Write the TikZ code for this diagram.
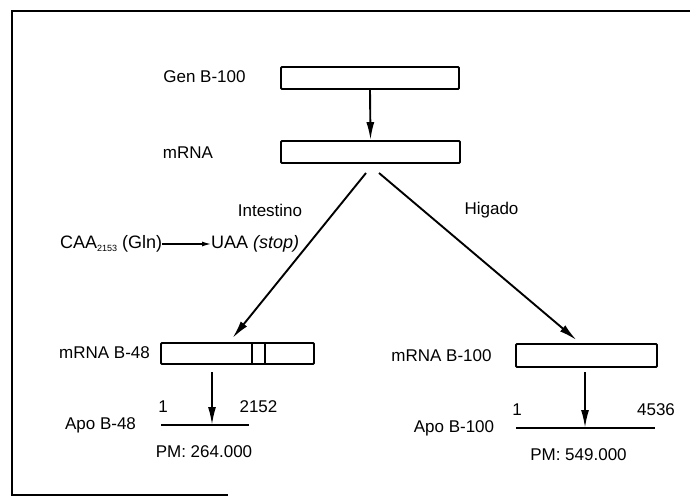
\documentclass[tikz,border=0pt]{standalone}
\usepackage{fontspec}
\setmainfont{Liberation Sans}
\usepackage{tikz}
\usetikzlibrary{arrows.meta, positioning, calc}

\begin{document}
\begin{tikzpicture}[
    x=1pt, y=-1pt,
    txt/.style={inner sep=0pt, font=\fontsize{17}{20}\selectfont},
    box/.style={draw, line width=1.9pt, rounded corners=1pt, inner sep=0pt},
    arr/.style={-{Latex[length=18pt, width=8pt]}, line width=1.9pt},
    seq/.style={line width=1.9pt}
  ]
  \useasboundingbox (0,0) rectangle (690,497);
  % frame
  \draw[line width=1.8pt] (690,11) -- (12,11) -- (12,495) -- (228,495);

  % gene and messenger
  \node[txt] (genlbl) at (204.5,77) {Gen B-100};
  \node[box, minimum width=178pt, minimum height=22pt] (gen) at (370,78) {};
  \node[txt] (mrnalbl) at (188,153) {mRNA};
  \node[box, minimum width=179pt, minimum height=22pt] (mrna) at (370.5,152) {};
  \draw[arr] (gen.south) -- (mrna.north);

  % tissues
  \node[txt] (intest) at (270,210) {Intestino};
  \node[txt] (higado) at (491.5,210) {Higado};
  \node[txt, anchor=west, font=\fontsize{18}{20}\selectfont] (caa) at (60,244)
       {CAA\raisebox{-2.5pt}{\fontsize{9}{10}\selectfont 2153} (Gln)};
  \node[txt, anchor=west, font=\fontsize{18}{20}\selectfont] (uaa) at (211,244) {UAA \textit{(stop)}};
  \draw[-{Latex[length=9pt, width=5pt]}, line width=1.2pt] (caa.east) -- (uaa.west);

  % intestine branch
  \node[txt] (b48lbl) at (104.5,353) {mRNA B-48};
  \node[box, minimum width=153pt, minimum height=21pt] (b48) at (237.5,353.5) {};
  \draw[line width=1.5pt] ([xshift=92pt]b48.north west) -- ([xshift=92pt]b48.south west)
                          ([xshift=105pt]b48.north west) -- ([xshift=105pt]b48.south west);
  \coordinate (l48a) at (161,425);
  \coordinate (l48b) at (249,425);
  \draw[seq] (l48a) -- (l48b);
  \node[txt] (apo48) at (100.5,425) {Apo B-48};
  \node[txt] (one48) at (163,407) {1};
  \node[txt] (end48) at (258.5,407) {2152};
  \node[txt] (pm48) at (204,452) {PM: 264.000};
  \coordinate (s48) at (212,372);
  \draw[arr] (s48) -- (s48 |- l48a);

  % liver branch
  \node[txt] (b100lbl) at (441.5,356) {mRNA B-100};
  \node[box, minimum width=141pt, minimum height=23pt] (b100) at (586.5,355.5) {};
  \coordinate (l100a) at (516,428);
  \coordinate (l100b) at (655,428);
  \draw[seq] (l100a) -- (l100b);
  \node[txt] (apo100) at (454,428) {Apo B-100};
  \node[txt] (one100) at (517,410) {1};
  \node[txt] (end100) at (656,410) {4536};
  \node[txt] (pm100) at (578.5,455) {PM: 549.000};
  \coordinate (s100) at (585,372);
  \draw[arr] (s100) -- (s100 |- l100a);

  % splitting
  \coordinate (sl) at (366,173);
  \coordinate (sr) at (379,173);
  \draw[arr] (sl) -- ([xshift=-5pt,yshift=4pt]b48.north);
  \draw[arr] (sr) -- ([xshift=-10pt,yshift=3pt]b100.north);
\end{tikzpicture}
\end{document}
